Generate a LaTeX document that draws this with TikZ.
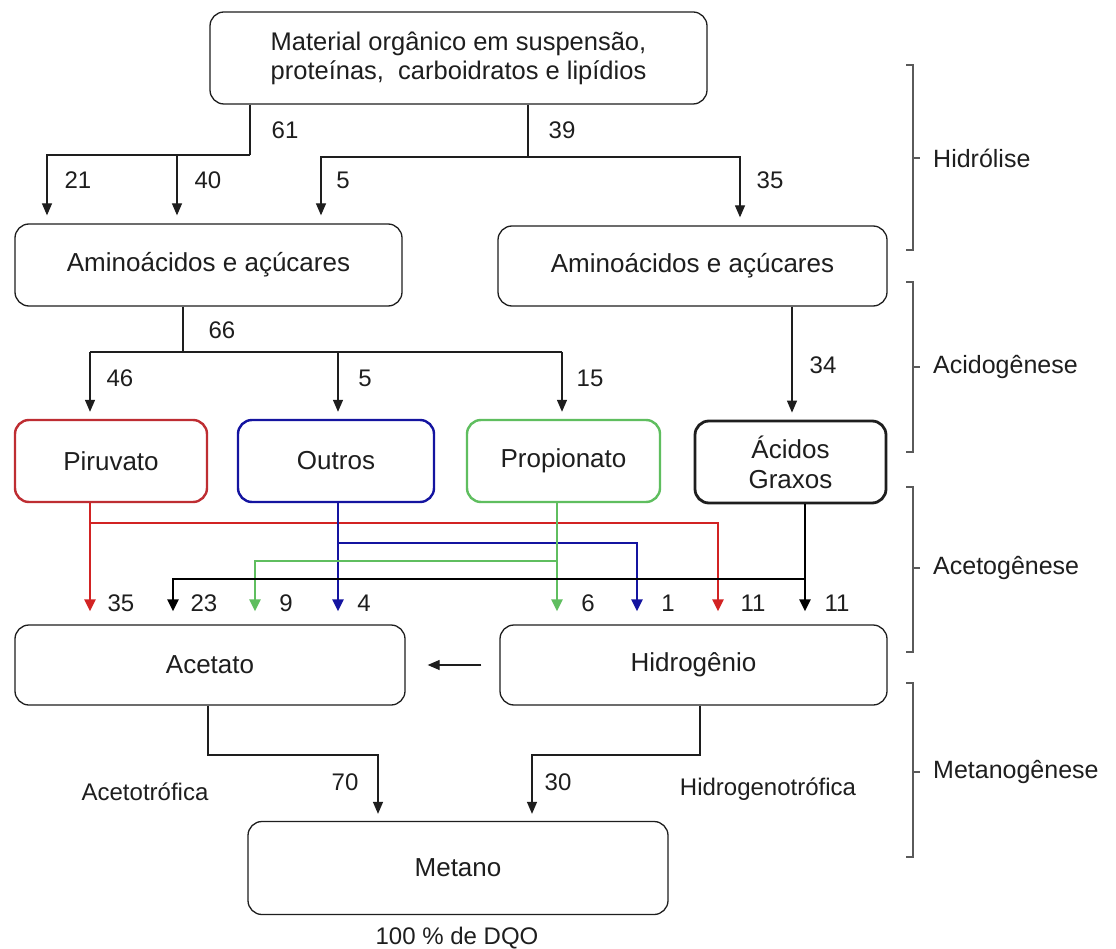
\documentclass[tikz,border=0pt]{standalone}
\usepackage{fontspec}
\setmainfont{Liberation Sans}
\usetikzlibrary{arrows.meta}
\definecolor{txt}{RGB}{30,30,30}
\definecolor{lred}{RGB}{210,35,35}
\definecolor{bred}{RGB}{190,45,50}
\definecolor{lblue}{RGB}{20,20,160}
\definecolor{lgreen}{RGB}{95,190,95}
\definecolor{brkgray}{RGB}{90,90,90}
\begin{document}
\begin{tikzpicture}[x=1pt,y=-1pt,
  box/.style={draw=txt, line width=1.3pt, rounded corners=14pt, inner sep=0pt, align=center,
    font=\fontsize{26}{29}\selectfont, text=txt},
  cbox/.style={box, line width=2.4pt, minimum width=#1, minimum height=82pt},
  ln/.style={draw=txt, line width=1.3pt},
  arr/.style={ln, -{Triangle[width=10pt,length=12pt]}, shorten >=8pt},
  carr/.style={line width=2.7pt, -{Triangle[width=11pt,length=12pt]}, shorten >=13pt},
  lab/.style={font=\fontsize{24}{28}\selectfont, text=txt, inner sep=0pt},
  stage/.style={font=\fontsize{25}{29}\selectfont, text=txt, inner sep=0pt, anchor=west},
  brk/.style={draw=brkgray, line width=1.3pt}]
\useasboundingbox (0,0) rectangle (1116,949);
\fill[white] (0,0) rectangle (1116,949);

% nodes
\node[box, minimum width=497pt, minimum height=92pt, font=\fontsize{25.5}{29}\selectfont] (top) at (458.5,58)
  {Material orgânico em suspensão,\\proteínas, \ carboidratos e lipídios};
\node[box, minimum width=387pt, minimum height=82pt] (aa1) at (208.5,265) {Aminoácidos e açúcares};
\node[box, minimum width=389pt, minimum height=80pt] (aa2) at (692.5,266) {Aminoácidos e açúcares};
\node[cbox=192pt, draw=bred] (piru) at (111,461) {Piruvato};
\node[cbox=196pt, draw=lblue] (outros) at (336,461) {Outros};
\node[cbox=193pt, draw=lgreen] (prop) at (563.5,461) {Propionato};
\node[cbox=191pt, line width=2.8pt, font=\fontsize{26}{30}\selectfont] (ag) at (790.5,462) {Ácidos\\Graxos};
\node[box, minimum width=390pt, minimum height=80pt] (acet) at (210,665) {Acetato};
\node[box, minimum width=387pt, minimum height=80pt] (hid) at (693.5,665) {Hidrogênio};
\node[box, minimum width=420pt, minimum height=93pt] (met) at (458,868) {Metano};

% helper coordinates
\coordinate (j61) at (250,155);
\coordinate (j39) at (528,157);
\coordinate (j66) at (183,352);
\foreach \x in {47,177,321,740,90,338,562,792,173,255,557,637,718,805,208,378,532,700}
  {\coordinate (c\x) at (\x,0);}
\coordinate (yr) at (0,523);
\coordinate (yb) at (0,543);
\coordinate (yg) at (0,561);
\coordinate (yk) at (0,579);
\coordinate (ya) at (0,755);

% hidrolise
\draw[ln] (top.south -| j61) -- (j61);
\draw[arr] (j61) -| (aa1.north -| c47);
\draw[arr] (j61 -| c177) -- (aa1.north -| c177);
\draw[ln] (top.south -| j39) -- (j39);
\draw[arr] (j39) -| (aa1.north -| c321);
\draw[arr] (j39) -| (aa2.north -| c740);
\node[lab] (l61) at (285,130) {61};
\node[lab] (l21) at (78,180) {21};
\node[lab] (l40) at (208,180) {40};
\node[lab] (l5a) at (343,180) {5};
\node[lab] (l39) at (562,130) {39};
\node[lab] (l35a) at (770,180) {35};

% acidogenese
\draw[ln] (aa1.south -| j66) -- (j66);
\draw[ln] (c90 |- j66) -- (c562 |- j66);
\draw[arr, shorten >=7pt] (c90 |- j66) -- (piru.north -| c90);
\draw[arr, shorten >=7pt] (c338 |- j66) -- (outros.north -| c338);
\draw[arr, shorten >=7pt] (c562 |- j66) -- (prop.north -| c562);
\draw[arr, shorten >=7pt] (aa2.south -| c792) -- (ag.north -| c792);
\node[lab] (l66) at (222,330) {66};
\node[lab] (l46) at (120,378) {46};
\node[lab] (l5b) at (365,378) {5};
\node[lab] (l15) at (590,378) {15};
\node[lab] (l34) at (823,365) {34};

% acetogenese
\draw[carr, draw=lred] (piru.south -| c90) -- (acet.north -| c90);
\draw[carr, draw=lred] (c90 |- yr) -| (hid.north -| c718);
\draw[carr, draw=lblue] (outros.south -| c338) -- (acet.north -| c338);
\draw[carr, draw=lblue] (c338 |- yb) -| (hid.north -| c637);
\draw[carr, draw=lgreen] (prop.south -| c557) -- (hid.north -| c557);
\draw[carr, draw=lgreen] (c557 |- yg) -| (acet.north -| c255);
\draw[carr, draw=black] (ag.south -| c805) -- (hid.north -| c805);
\draw[carr, draw=black] (c805 |- yk) -| (acet.north -| c173);
\node[lab] (l35b) at (121,603) {35};
\node[lab] (l23) at (204,603) {23};
\node[lab] (l9) at (286,603) {9};
\node[lab] (l4) at (364,603) {4};
\node[lab] (l6) at (588,603) {6};
\node[lab] (l1) at (668,603) {1};
\node[lab] (l11a) at (753,603) {11};
\node[lab] (l11b) at (837,603) {11};

\draw[arr, shorten >=0pt] ([xshift=-18pt]hid.west) -- ([xshift=22pt]acet.east);

% metanogenese
\draw[arr, shorten >=7pt] (acet.south -| c208) |- (c378 |- ya) -- (met.north -| c378);
\draw[arr, shorten >=7pt] (hid.south -| c700) |- (c532 |- ya) -- (met.north -| c532);
\node[lab] (l70) at (345,782) {70};
\node[lab] (l30) at (558,782) {30};
\node[lab] (acto) at (145,792) {Acetotrófica};
\node[lab] (hdto) at (768,789) {Hidrogenotrófica};
\node[lab] (dqo) at (457,938) {100 \% de DQO};

% stage brackets
\draw[brk] (906,65) -- (913,65) -- (913,250) -- (906,250);
\draw[brk] (913,158) -- (920,158);
\node[stage] (s1) at (933,158) {Hidrólise};
\draw[brk] (906,282) -- (913,282) -- (913,452) -- (906,452);
\draw[brk] (913,367) -- (920,367);
\node[stage] (s2) at (933,367) {Acidogênese};
\draw[brk] (906,487) -- (913,487) -- (913,652) -- (906,652);
\draw[brk] (913,568) -- (920,568);
\node[stage] (s3) at (933,568) {Acetogênese};
\draw[brk] (906,683) -- (913,683) -- (913,857) -- (906,857);
\draw[brk] (913,772) -- (920,772);
\node[stage] (s4) at (933,772) {Metanogênese};
\end{tikzpicture}
\end{document}
